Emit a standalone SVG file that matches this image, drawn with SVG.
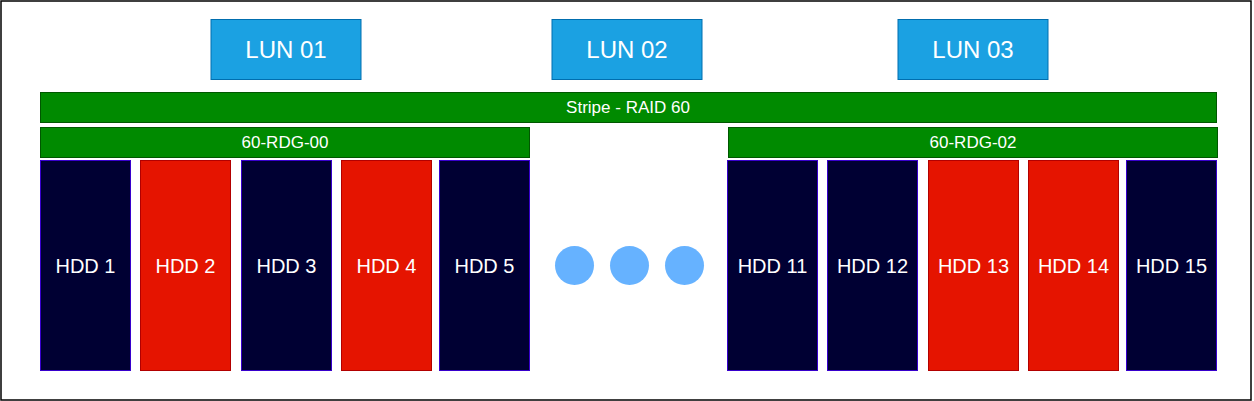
<svg xmlns="http://www.w3.org/2000/svg" width="1254" height="401" viewBox="0 0 1254 401">
<style>
text{font-family:"Liberation Sans",Arial,sans-serif;fill:#ffffff;text-anchor:middle}
.lun{fill:#1ba1e2;stroke:#006eaf}
.grn{fill:#008a00;stroke:#005700}
.blk{fill:#000033;stroke:#3700cc}
.red{fill:#e51400;stroke:#b20000}
.dot{fill:#66b2ff}
.t24{font-size:24px}
.t17{font-size:17px}
.t20{font-size:20px}
</style>
<rect x="1" y="1" width="1250" height="399" fill="#ffffff" stroke="#000000" stroke-width="1.5"/>
<g id="lun01"><rect class="lun" x="211" y="19.5" width="150" height="60"/><text class="t24" x="286" y="58">LUN 01</text></g>
<g id="lun02"><rect class="lun" x="552" y="19.5" width="150" height="60"/><text class="t24" x="627" y="58">LUN 02</text></g>
<g id="lun03"><rect class="lun" x="898" y="19.5" width="150" height="60"/><text class="t24" x="973" y="58">LUN 03</text></g>
<g id="stripe"><rect class="grn" x="40.5" y="92.5" width="1176" height="30"/><text class="t17" x="628" y="113">Stripe - RAID 60</text></g>
<g id="rdg00"><rect class="grn" x="40.5" y="127.5" width="489" height="30"/><text class="t17" x="285" y="148">60-RDG-00</text></g>
<g id="rdg02"><rect class="grn" x="728.5" y="127.5" width="489" height="30"/><text class="t17" x="973" y="148">60-RDG-02</text></g>
<g id="hdd1"><rect class="blk" x="40.5" y="160.5" width="90" height="210"/><text class="t20" x="85.5" y="273">HDD 1</text></g>
<g id="hdd2"><rect class="red" x="140.5" y="160.5" width="90" height="210"/><text class="t20" x="185.5" y="273">HDD 2</text></g>
<g id="hdd3"><rect class="blk" x="241.5" y="160.5" width="90" height="210"/><text class="t20" x="286.5" y="273">HDD 3</text></g>
<g id="hdd4"><rect class="red" x="341.5" y="160.5" width="90" height="210"/><text class="t20" x="386.5" y="273">HDD 4</text></g>
<g id="hdd5"><rect class="blk" x="439.5" y="160.5" width="90" height="210"/><text class="t20" x="484.5" y="273">HDD 5</text></g>
<g id="dots"><circle class="dot" cx="574.5" cy="265.5" r="19.5"/><circle class="dot" cx="629.5" cy="265.5" r="19.5"/><circle class="dot" cx="684.5" cy="265.5" r="19.5"/></g>
<g id="hdd11"><rect class="blk" x="727.5" y="160.5" width="90" height="210"/><text class="t20" x="772.5" y="273">HDD 11</text></g>
<g id="hdd12"><rect class="blk" x="827.5" y="160.5" width="90" height="210"/><text class="t20" x="872.5" y="273">HDD 12</text></g>
<g id="hdd13"><rect class="red" x="928.5" y="160.5" width="90" height="210"/><text class="t20" x="973.5" y="273">HDD 13</text></g>
<g id="hdd14"><rect class="red" x="1028.5" y="160.5" width="90" height="210"/><text class="t20" x="1073.5" y="273">HDD 14</text></g>
<g id="hdd15"><rect class="blk" x="1126.5" y="160.5" width="90" height="210"/><text class="t20" x="1171.5" y="273">HDD 15</text></g>
<g id="connectors"/>
</svg>
